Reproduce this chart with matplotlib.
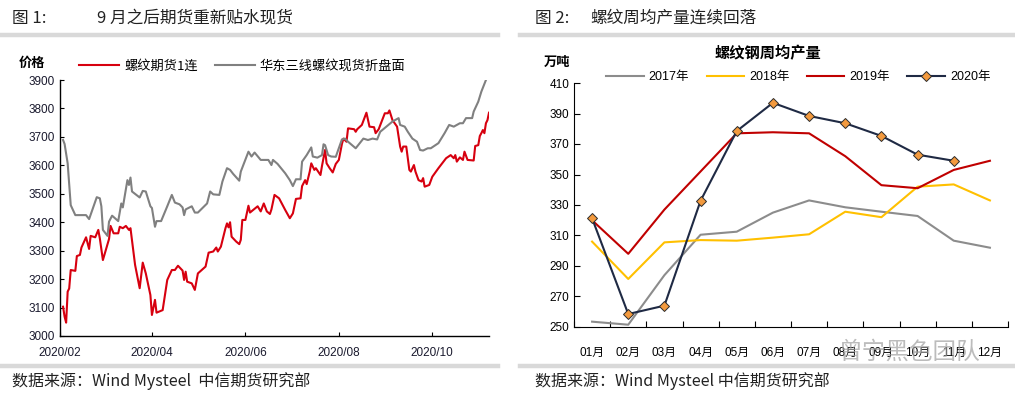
import matplotlib
matplotlib.use("Agg")
import matplotlib.pyplot as plt
import matplotlib.dates as mdates
import pandas as pd
import numpy as np

plt.rcParams['font.family'] = ['Liberation Sans', 'Noto Sans CJK SC', 'DejaVu Sans']

# ---------------- data: chart 1 (daily prices, 2020) ----------------
fut_dates = ["02-03","02-04","02-05","02-06","02-07","02-08","02-11","02-12","02-14","02-15",
             "02-18","02-20","02-21","02-24","02-26","02-27","02-29","03-04","03-05","03-07",
             "03-10","03-11","03-13","03-15","03-17","03-18","03-21","03-24","03-26","03-28",
             "03-31","04-01","04-03","04-04","04-08","04-11","04-14","04-16","04-18","04-21",
             "04-22","04-23","04-24","04-27","04-29","05-01","05-06","05-08","05-11","05-13",
             "05-14","05-16","05-19","05-20","05-21","05-22","05-23","05-26","05-28","05-29",
             "05-30","06-01","06-03","06-04","06-09","06-11","06-13","06-15","06-17","06-18",
             "06-20","06-23","06-27","06-30","07-02","07-04","07-07","07-08","07-10","07-11",
             "07-13","07-14","07-16","07-17","07-20","07-21","07-23","07-24","07-26","07-28",
             "07-30","08-01","08-03","08-04","08-06","08-07","08-11","08-12","08-13","08-16",
             "08-19","08-21","08-24","08-25","08-27","08-31","09-02","09-03","09-05","09-08",
             "09-10","09-11","09-12","09-14","09-16","09-17","09-19","09-20","09-22","09-24",
             "09-25","09-26","09-29","10-01","10-05","10-10","10-13","10-15","10-16","10-17",
             "10-19","10-21","10-22","10-24","10-28","10-29","10-31","11-01","11-02","11-03",
             "11-04","11-05","11-06","11-07"]
fut_vals = [3103,3068,3047,3156,3167,3232,3229,3281,3285,3311,
            3347,3306,3352,3347,3373,3343,3267,3341,3387,3361,
            3361,3384,3379,3387,3373,3379,3250,3168,3258,3220,
            3144,3074,3127,3082,3091,3197,3232,3232,3247,3230,
            3197,3226,3191,3185,3162,3220,3244,3293,3297,3311,
            3297,3314,3379,3396,3382,3400,3349,3332,3323,3338,
            3408,3408,3458,3434,3456,3438,3466,3438,3429,3445,
            3496,3484,3443,3414,3431,3482,3484,3527,3548,3534,
            3578,3607,3584,3590,3566,3598,3654,3607,3590,3575,
            3605,3619,3675,3694,3683,3730,3727,3718,3727,3742,
            3785,3736,3734,3713,3727,3783,3783,3793,3759,3736,
            3666,3648,3666,3666,3584,3578,3601,3578,3548,3543,
            3555,3525,3531,3560,3590,3625,3636,3625,3636,3613,
            3628,3619,3648,3619,3617,3668,3671,3703,3713,3724,
            3713,3748,3759,3785]

spot_dates = ["02-03","02-04","02-06","02-08","02-11","02-18","02-20","02-25","02-27","02-28",
              "02-29","03-03","03-04","03-06","03-10","03-12","03-13","03-16","03-17","03-18",
              "03-19","03-24","03-26","03-28","03-31","04-01","04-03","04-04","04-07","04-11",
              "04-14","04-16","04-19","04-21","04-22","04-23","04-27","04-29","05-01","05-07",
              "05-09","05-11","05-15","05-17","05-20","05-22","05-24","05-28","05-29","06-03",
              "06-05","06-07","06-11","06-16","06-18","06-19","06-22","06-27","06-30","07-02",
              "07-04","07-07","07-08","07-11","07-14","07-15","07-18","07-21","07-22","07-23",
              "07-25","07-27","07-30","08-03","08-05","08-07","08-12","08-17","08-20","08-23",
              "08-26","08-28","09-01","09-05","09-09","09-10","09-13","09-15","09-18","09-21",
              "09-23","09-25","09-28","09-30","10-05","10-09","10-12","10-15","10-19","10-21",
              "10-23","10-27","10-28","10-31","11-02","11-05"]
spot_vals = [3689,3675,3607,3460,3425,3425,3411,3488,3484,3456,
             3373,3352,3402,3423,3404,3466,3452,3548,3531,3557,
             3508,3487,3510,3508,3456,3450,3384,3404,3404,3456,
             3496,3469,3463,3452,3425,3445,3456,3434,3434,3466,
             3508,3498,3496,3543,3590,3584,3570,3546,3578,3648,
             3631,3645,3619,3619,3601,3619,3605,3572,3548,3527,
             3551,3551,3613,3636,3663,3631,3627,3636,3674,3671,
             3636,3631,3630,3691,3694,3683,3660,3694,3689,3694,
             3691,3718,3736,3754,3766,3742,3736,3718,3694,3683,
             3654,3652,3660,3660,3678,3713,3742,3736,3748,3748,
             3766,3766,3789,3824,3859,3900]

# ---------------- data: chart 2 (weekly average output, 10k t) ----------------
months = ["01月","02月","03月","04月","05月","06月","07月","08月","09月","10月","11月","12月"]
y2017 = [253.5, 251.5, 284, 310.5, 312.5, 325, 333, 328.5, 325.6, 322.8, 306.6, 302]
y2018 = [306, 281.5, 305.5, 307, 306.6, 308.6, 310.8, 325.6, 322, 342, 343.5, 333]
y2019 = [320, 298, 327, 352, 377, 377.7, 377, 362, 343, 341, 353, 359]
y2020 = [321.3, 258.5, 264, 332.8, 378.5, 397, 388.4, 383.6, 375.3, 363, 359]

W, H = 1015, 393
fig = plt.figure(figsize=(W/100, H/100), dpi=100)

def ax_rect(x0, y0, x1, y1):
    return [x0/W, 1 - y1/H, (x1-x0)/W, (y1-y0)/H]

def fx(x):
    return x / W

def fy(y):
    return 1 - y / H

# --- headers, separators, footers ---
cjk = ['Noto Sans CJK SC', 'DejaVu Sans']
fig.text(fx(12), fy(18), "图 1:", fontsize=12, family=cjk, va='center', color='#222222')
fig.text(fx(97), fy(18), "9 月之后期货重新贴水现货", fontsize=12, family=cjk, va='center', color='#222222')
fig.text(fx(535), fy(18), "图 2:", fontsize=12, family=cjk, va='center', color='#222222')
fig.text(fx(590), fy(18), "螺纹周均产量连续回落", fontsize=12, family=cjk, va='center', color='#222222')
fig.text(fx(12), fy(381), "数据来源：Wind Mysteel  中信期货研究部", fontsize=11.5, family=cjk, va='center', color='#222222')
fig.text(fx(535), fy(381), "数据来源：Wind Mysteel 中信期货研究部", fontsize=11.5, family=cjk, va='center', color='#222222')

from matplotlib.lines import Line2D
for (a, b) in [(0, 498), (520, 1015)]:
    for yy in (35, 366):
        fig.add_artist(Line2D([fx(a), fx(b)], [fy(yy), fy(yy)], color='#D9D9D9', lw=3.2,
                              transform=fig.transFigure))

# --- chart 1 ---
ax1 = fig.add_axes(ax_rect(60, 80, 489, 336))
fd = pd.to_datetime(["2020-" + d for d in fut_dates])
sd = pd.to_datetime(["2020-" + d for d in spot_dates])
l_fut, = ax1.plot(fd, fut_vals, color='#D7000F', lw=1.5)
l_spot, = ax1.plot(sd, spot_vals, color='#808080', lw=1.5)
ax1.set_ylim(3000, 3900)
ax1.set_yticks(np.arange(3000, 3901, 100))
ax1.set_xlim(pd.Timestamp("2020-02-01"), pd.Timestamp("2020-11-07"))
ax1.set_xticks(pd.to_datetime(["2020-02-01", "2020-04-01", "2020-06-01", "2020-08-01", "2020-10-01"]))
ax1.xaxis.set_major_formatter(mdates.DateFormatter("%Y/%m"))
for s in ('top', 'right'):
    ax1.spines[s].set_visible(False)
for s in ('left', 'bottom'):
    ax1.spines[s].set_color('black')
    ax1.spines[s].set_linewidth(1.0)
ax1.tick_params(direction='in', length=3, labelsize=8.5, colors='black', labelcolor='#1a1a2e')
ax1.tick_params(axis='x', pad=8)
fig.text(fx(32), fy(63), "价格", fontsize=9.5, family=cjk, fontweight='bold', ha='center', va='center')
ax1.legend([l_fut, l_spot], ["螺纹期货1连", "华东三线螺纹现货折盘面"], loc='upper left',
           bbox_to_anchor=(fx(74), fy(54)), bbox_transform=fig.transFigure, ncol=2, frameon=False,
           prop={'family': cjk, 'size': 9.5}, handlelength=3.0, columnspacing=1.3, handletextpad=0.4,
           borderaxespad=0)

# --- chart 2 ---
ax2 = fig.add_axes(ax_rect(574, 83, 1008, 327))
xs = np.arange(len(months))
l17, = ax2.plot(xs, y2017, color='#8C8C8C', lw=1.5)
l18, = ax2.plot(xs, y2018, color='#FFC000', lw=1.5)
l19, = ax2.plot(xs, y2019, color='#C00000', lw=1.5)
l20, = ax2.plot(xs[:len(y2020)], y2020, color='#1F2A44', lw=1.5, marker='D', markersize=5.5,
                markerfacecolor='#F39A3E', markeredgecolor='#2B2B2B', markeredgewidth=0.7)
ax2.set_xlim(-0.5, 11.5)
ax2.set_ylim(250, 410)
ax2.set_yticks(np.arange(250, 411, 20))
ax2.set_xticks(np.arange(-0.5, 12, 1), minor=False)
ax2.set_xticklabels([])
ax2.set_xticks(xs, minor=True)
ax2.set_xticklabels(months, minor=True, fontsize=8.5, family=['Liberation Sans', 'Noto Sans CJK SC'])
ax2.tick_params(axis='x', which='minor', length=0, pad=14)
ax2.tick_params(axis='x', which='major', direction='in', length=4)
ax2.tick_params(axis='y', direction='in', length=4, labelsize=8.5)
for s in ('top', 'right'):
    ax2.spines[s].set_visible(False)
for s in ('left', 'bottom'):
    ax2.spines[s].set_color('black')
fig.text(fx(557), fy(62), "万吨", fontsize=9.5, family=cjk, fontweight='bold', ha='center', va='center')
fig.text(fx(768), fy(53), "螺纹钢周均产量", fontsize=11, family=cjk, fontweight='bold', ha='center', va='center')
ax2.legend([l17, l18, l19, l20], ["2017年", "2018年", "2019年", "2020年"], loc='upper left',
           bbox_to_anchor=(fx(601), fy(66)), bbox_transform=fig.transFigure, ncol=4, frameon=False,
           prop={'family': ['Liberation Sans', 'Noto Sans CJK SC'], 'size': 9}, handlelength=3.0,
           columnspacing=1.4, handletextpad=0.4, borderaxespad=0)

# watermark
fig.text(fx(910), fy(352), "曾宁黑色团队", fontsize=17, family=cjk, color='#A0A0A0', alpha=0.7,
         ha='center', va='center')

fig.savefig("out.png", dpi=100)
